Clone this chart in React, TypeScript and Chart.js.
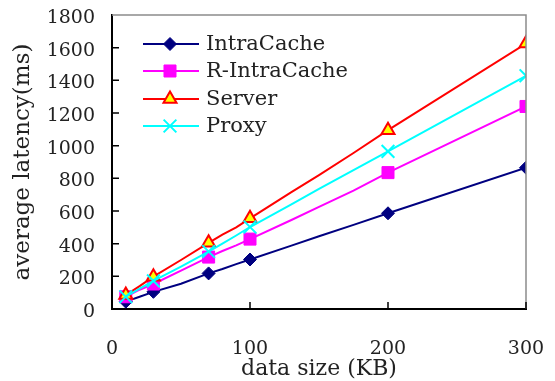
import React, { useEffect, useRef } from "react";
import { Chart, registerables } from "chart.js";
import { drawPoint } from "chart.js/helpers";

Chart.register(...registerables);

const xValues = [10, 20, 30, 50, 70, 80, 90, 100, 130, 150, 175, 200, 300];
const markerXs = [10, 30, 70, 100, 200, 300];
const intraCache = [45, 75, 105, 155, 218, 245, 275, 303, 388, 445, 515, 586, 865];
const rIntraCache = [75, 118, 153, 235, 318, 355, 390, 428, 545, 625, 725, 835, 1240];
const server = [85, 140, 198, 300, 405, 455, 500, 555, 715, 820, 955, 1095, 1625];
const proxy = [75, 125, 172, 260, 352, 400, 450, 502, 640, 735, 850, 965, 1428];
const seriesNames = ["IntraCache", "R-IntraCache", "Server", "Proxy"];
const xTicks = [0, 100, 200, 300];
const yTicks = [0, 200, 400, 600, 800, 1000, 1200, 1400, 1600, 1800];

const FONT = "'DejaVu Serif', serif";

const styles = [
  { color: "#000080", fill: "#000080", pointStyle: "rectRot", radius: 6.5, bw: 1 },
  { color: "#FF00FF", fill: "#FF00FF", pointStyle: "rect", radius: 8.5, bw: 1 },
  { color: "#FF0000", fill: "#FFFF00", pointStyle: "triangle", radius: 7.5, bw: 2 },
  { color: "#00FFFF", fill: "#00FFFF", pointStyle: "crossRot", radius: 9, bw: 2 },
];

const allSeries = [intraCache, rIntraCache, server, proxy];

export default function App() {
  const ref = useRef<HTMLCanvasElement | null>(null);
  useEffect(() => {
    document.body.style.margin = "0";
    const canvas = ref.current!;
    const overlay = {
      id: "overlay",
      afterDraw(chart: any) {
        const { ctx, chartArea: a, scales } = chart;
        const x = scales.x;
        const y = scales.y;
        ctx.save();
        ctx.strokeStyle = "#8c8c8c";
        ctx.lineWidth = 1.5;
        ctx.beginPath();
        ctx.moveTo(a.left, a.top);
        ctx.lineTo(a.right, a.top);
        ctx.lineTo(a.right, a.bottom);
        ctx.stroke();
        ctx.strokeStyle = "#000";
        ctx.lineWidth = 1.5;
        ctx.beginPath();
        y.ticks.forEach((t: any) => {
          if (t.value === 0 || t.value === 1800) return;
          const py = y.getPixelForValue(t.value);
          ctx.moveTo(a.left, py);
          ctx.lineTo(a.left + 7, py);
        });
        x.ticks.forEach((t: any) => {
          if (t.value === 0) return;
          const px = x.getPixelForValue(t.value);
          ctx.moveTo(px, a.bottom);
          ctx.lineTo(px, a.bottom - 7);
        });
        ctx.stroke();
        // legend
        const lx0 = a.left + 31;
        const lx1 = a.left + 87;
        const mx = a.left + 58;
        const tx = a.left + 94;
        const ys = [44, 71, 99, 126];
        seriesNames.forEach((name, i) => {
          const s = styles[i];
          const ly = ys[i];
          ctx.strokeStyle = s.color;
          ctx.lineWidth = 2;
          ctx.beginPath();
          ctx.moveTo(lx0, ly);
          ctx.lineTo(lx1, ly);
          ctx.stroke();
          ctx.fillStyle = s.fill;
          ctx.strokeStyle = s.color;
          ctx.lineWidth = s.bw;
          drawPoint(ctx, { pointStyle: s.pointStyle, radius: s.radius, rotation: 0, borderWidth: s.bw } as any, mx, ly);
          ctx.fillStyle = "#222";
          ctx.font = "21px " + FONT;
          ctx.textAlign = "left";
          ctx.textBaseline = "middle";
          ctx.fillText(name, tx, ly + 1);
        });
        ctx.restore();
      },
    };
    const datasets = seriesNames.map((name, i) => {
      const s = styles[i];
      return {
        label: name,
        data: xValues.map((xv, j) => ({ x: xv, y: allSeries[i][j] })),
        borderColor: s.color,
        backgroundColor: s.fill,
        borderWidth: 2,
        pointStyle: s.pointStyle,
        pointRadius: (c: any) => (markerXs.includes(xValues[c.dataIndex]) ? s.radius : 0),
        pointBorderWidth: s.bw,
        pointBorderColor: s.color,
        pointBackgroundColor: s.fill,
        tension: 0,
        order: [3, 2, 1, 0][i],
      };
    });
    const chart = new Chart(canvas, {
      type: "line",
      data: { datasets } as any,
      options: {
        animation: false,
        responsive: false,
        devicePixelRatio: 1,
        layout: { padding: { top: 15, right: 29, left: 0, bottom: 0 } },
        plugins: { legend: { display: false }, tooltip: { enabled: false } },
        scales: {
          x: {
            type: "linear",
            min: 0,
            max: 300,
            afterBuildTicks: (sc: any) => {
              sc.ticks = xTicks.map((v) => ({ value: v }));
            },
            afterFit: (sc: any) => {
              sc.height = 72;
              sc.paddingLeft = 0;
              sc.paddingRight = 0;
            },
            grid: { display: false, drawTicks: false },
            border: { display: true, color: "#000", width: 2 },
            ticks: {
              color: "#222",
              font: { family: FONT, size: 19 },
              padding: 29,
              maxRotation: 0,
              callback: (v: any) => String(v),
            },
            title: {
              display: true,
              text: "data size (KB)",
              color: "#222",
              font: { family: FONT, size: 22 },
              padding: { top: 0, bottom: -1 },
            },
          },
          y: {
            type: "linear",
            min: 0,
            max: 1800,
            afterBuildTicks: (sc: any) => {
              sc.ticks = yTicks.map((v) => ({ value: v }));
            },
            afterFit: (sc: any) => {
              sc.width = 112;
              sc.paddingTop = 0;
              sc.paddingBottom = 0;
            },
            grid: { display: false, drawTicks: false },
            border: { display: true, color: "#000", width: 2 },
            ticks: {
              color: "#222",
              font: { family: FONT, size: 19 },
              padding: 17,
              labelOffset: 3,
              callback: (v: any) => String(v),
            },
            title: {
              display: true,
              text: "average latency(ms)",
              color: "#222",
              font: { family: FONT, size: 23 },
              padding: { top: 9, bottom: 0 },
            },
          },
        },
      } as any,
      plugins: [overlay],
    });
    return () => chart.destroy();
  }, []);
  return <canvas ref={ref} width={555} height={381} style={{ display: "block", width: 555, height: 381 }} />;
}
